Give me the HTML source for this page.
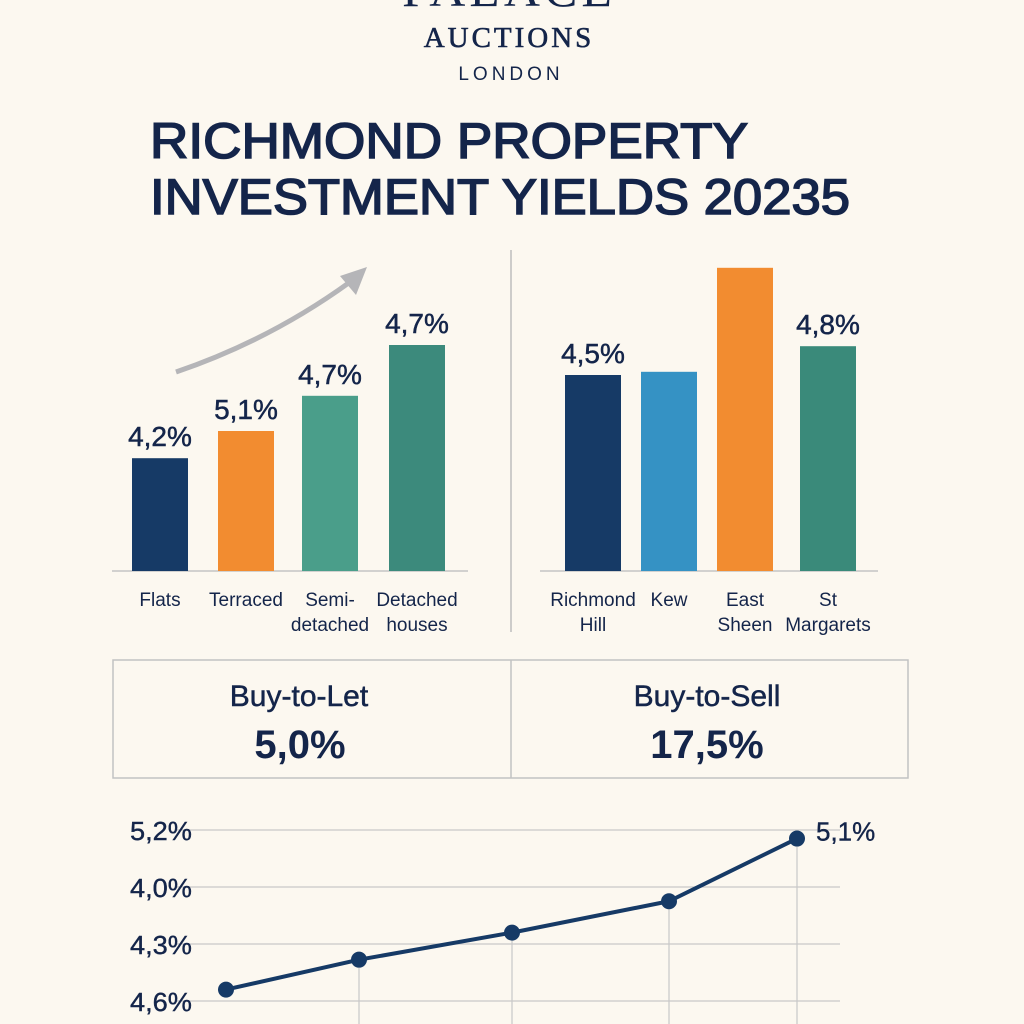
<!DOCTYPE html>
<html><head><meta charset="utf-8"><style>
html,body{margin:0;padding:0;background:#fcf8f0;}
svg{display:block;font-family:"Liberation Sans","DejaVu Sans",sans-serif;}
</style></head><body>
<svg id="s" width="1024" height="1024" viewBox="0 0 1024 1024">
<rect width="1024" height="1024" fill="#fcf8f0"/>
<g fill="#14254a" text-anchor="middle">
<text x="509" y="6" font-family="Liberation Serif,serif" font-size="50" letter-spacing="4">PALACE</text>
<text x="509" y="47" font-family="Liberation Serif,serif" font-size="29" letter-spacing="3" stroke="#14254a" stroke-width="0.6">AUCTIONS</text>
<text x="511" y="80" font-size="19" letter-spacing="4">LONDON</text>
</g>
<g fill="#14254a" stroke="#14254a" stroke-width="1.6" font-size="50">
<text x="150" y="158" textLength="598" lengthAdjust="spacingAndGlyphs">RICHMOND PROPERTY</text>
<text x="150" y="214" textLength="700" lengthAdjust="spacingAndGlyphs">INVESTMENT YIELDS 20235</text>
</g>
<line x1="511" y1="250" x2="511" y2="632" stroke="#bdbdbd" stroke-width="1.5"/>
<path d="M176 372 Q270 340 350 282" fill="none" stroke="#b5b5b8" stroke-width="5"/>
<polygon points="367,267 340,276 356,295" fill="#b5b5b8"/>
<g id="bars"></g>
<g>
<rect x="113" y="660" width="795" height="118" fill="none" stroke="#c2c2c2" stroke-width="1.5"/>
<line x1="511" y1="660" x2="511" y2="778" stroke="#c2c2c2" stroke-width="1.5"/>
<g fill="#14254a" text-anchor="middle">
<text x="299" y="706" font-size="30" stroke="#14254a" stroke-width="0.5">Buy-to-Let</text>
<text x="300" y="758" font-size="40" font-weight="bold">5,0%</text>
<text x="707" y="706" font-size="30" stroke="#14254a" stroke-width="0.5">Buy-to-Sell</text>
<text x="707" y="758" font-size="40" font-weight="bold">17,5%</text>
</g>
</g>
<g id="line"></g>
</svg>
<script>
// Bar charts (heights in arbitrary units, 40px per unit)
const typeCats = [["Flats"],["Terraced"],["Semi-","detached"],["Detached","houses"]];
const typeHeights = [2.82, 3.5, 4.38, 5.65];
const typeLabels = ["4,2%","5,1%","4,7%","4,7%"];
const areaCats = [["Richmond","Hill"],["Kew"],["East","Sheen"],["St","Margarets"]];
const areaHeights = [4.9, 4.98, 7.58, 5.62];
const areaLabels = ["4,5%","","","4,8%"];
// Line chart
const lineX = [0,1,2,3,4];
const lineValues = [4.08, 4.29, 4.48, 4.70, 5.14];
const yTickValues = [4.0, 4.4, 4.8, 5.2];
const yTickLabels = ["4,6%","4,3%","4,0%","5,2%"];
const endLabel = "5,1%";

const NS="http://www.w3.org/2000/svg";
function mk(tag,attrs,parent,txt){const e=document.createElementNS(NS,tag);for(const k in attrs)e.setAttribute(k,attrs[k]);if(txt!==undefined)e.textContent=txt;parent.appendChild(e);return e;}
const base=571, unit=40;
const yb=v=>base-v*unit;
function barChart(g,cats,vals,labels,xs,colors,axis,prefix){
  const ax=mk("line",{x1:axis[0],x2:axis[1],y1:base,y2:base,stroke:"#c4c4c4","stroke-width":1.5},g);
  
  
  vals.forEach((v,i)=>{
    const r=mk("rect",{x:xs[i],y:yb(v),width:56,height:base-yb(v),fill:colors[i]},g);
    
    
    if(labels[i]){
      const t=mk("text",{x:xs[i]+28,y:yb(v)-12,"text-anchor":"middle","font-size":28,fill:"#14254a",stroke:"#14254a","stroke-width":0.5},g,labels[i]);
      
      
    }
    cats[i].forEach((ln,j)=>{
      const t=mk("text",{x:xs[i]+28,y:606+j*25,"text-anchor":"middle","font-size":19,fill:"#14254a"},g,ln);
      
      
    });
  });
}
const bars=document.getElementById("bars");
barChart(bars,typeCats,typeHeights,typeLabels,[132,218,302,389],["#163a66","#f28c30","#4a9e8a","#3c8a7c"],[112,468],"type");
barChart(bars,areaCats,areaHeights,areaLabels,[565,641,717,800],["#163a66","#3592c4","#f28c30","#3a8a7a"],[540,878],"area");

const lg=document.getElementById("line");
const px=[226,359,512,669,797];
const xs=i=>px[i];
const ys=v=>1001-(v-4.0)/1.2*171;
yTickValues.forEach((v,i)=>{
  const l=mk("line",{x1:177,x2:840,y1:ys(v),y2:ys(v),stroke:"#c8c8c8","stroke-width":1.2},lg);
  
  
  const t=mk("text",{x:130,y:ys(v)+10,"font-size":26,fill:"#14254a",stroke:"#14254a","stroke-width":0.4,textLength:62,lengthAdjust:"spacingAndGlyphs"},lg,yTickLabels[i]);
  
  
});
lineX.forEach((x,i)=>{ if(i>0){
  const l=mk("line",{x1:xs(x),x2:xs(x),y1:ys(lineValues[i]),y2:1024,stroke:"#c8c8c8","stroke-width":1.2},lg);
  
  
}});
const d=lineValues.map((v,i)=>(i?"L":"M")+xs(lineX[i])+" "+ys(v)).join(" ");
const p=mk("path",{d:d,fill:"none",stroke:"#163a66","stroke-width":4,"stroke-linejoin":"round"},lg);


lineValues.forEach((v,i)=>{
  const c=mk("circle",{cx:xs(lineX[i]),cy:ys(v),r:8,fill:"#163a66"},lg);
  
  
});
const last=lineValues.length-1;
const et=mk("text",{x:xs(lineX[last])+19,y:ys(lineValues[last])+2,"font-size":26,fill:"#14254a",stroke:"#14254a","stroke-width":0.4},lg,endLabel);


</script>
</body></html>
